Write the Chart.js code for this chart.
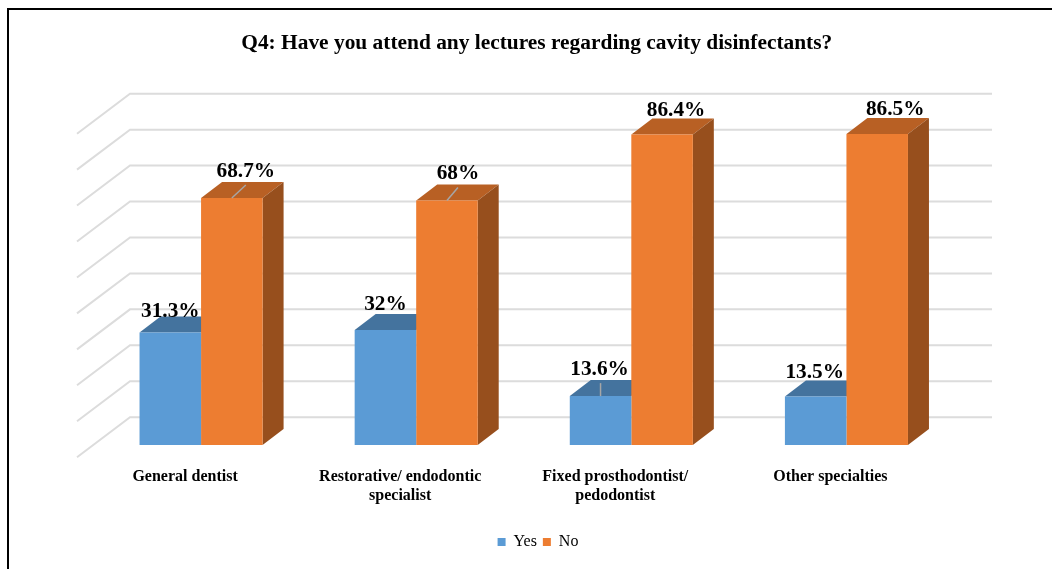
<!DOCTYPE html>
<html>
<head>
<meta charset="utf-8">
<style>
html,body{margin:0;padding:0;background:#fff;overflow:hidden}
#wrap{position:relative;width:1052px;height:569px}
canvas{display:block}
#frame{position:absolute;left:7px;top:8px;right:0;bottom:0;border-left:2px solid #000;border-top:2px solid #000;pointer-events:none}
</style>
<script src="https://cdn.jsdelivr.net/npm/chart.js@4"></script>
</head>
<body>
<div id="wrap"><canvas id="c" width="1052" height="569"></canvas><div id="frame"></div></div>
<script>
const categories = ['General dentist', ['Restorative/ endodontic','specialist'], ['Fixed prosthodontist/','pedodontist'], 'Other specialties'];
const yesValues = [31.3, 32, 13.6, 13.5];
const noValues = [68.7, 68, 86.4, 86.5];
const titleText = 'Q4: Have you attend any lectures regarding cavity disinfectants?';

// Layout of the value labels relative to each bar's top-centre
const yesLabelShift = [[0,-21],[0,-25],[-1,-27],[-1,-24]];
const noLabelShift = [[14,-27],[11,-27.5],[14,-24],[18,-25]];
const yesLeader = [null,null,[0,-13],null];
const noLeader = [[14,-13],[11,-13],null,null];

const SERIF = '"Liberation Serif","Times New Roman",serif';
const DX = 21, DY = 16;   // bar depth
const WALL_DY = 27.8;     // back wall relative to the bar plane

const threeD = {
  id:'threeD',
  afterLayout(chart){
    if(chart.legend){chart.legend.left += 14.25; chart.legend.right += 14.25;}
    if(chart.titleBlock){chart.titleBlock.left += 13; chart.titleBlock.right += 13;}
  },
  beforeDatasetsDraw(chart){
    const {ctx, scales:{y}} = chart;
    ctx.save();
    ctx.strokeStyle = '#DCDCDC';
    ctx.lineWidth = 2;
    const backL = 130, backR = 992;
    y.ticks.forEach(t=>{
      const py = y.getPixelForValue(t.value) - WALL_DY;
      ctx.beginPath();
      ctx.moveTo(backL - 53, py + 40);
      ctx.lineTo(backL, py);
      ctx.lineTo(backR, py);
      ctx.stroke();
    });
    const faces = [[0,'#44739E',null],[1,'#B86024','#974F1D']];
    faces.forEach(([di,top,side])=>{
      chart.getDatasetMeta(di).data.forEach(b=>{
        const l = b.x - b.width/2, r = b.x + b.width/2, t = b.y, bt = b.base;
        ctx.fillStyle = top;
        ctx.beginPath();
        ctx.moveTo(l,t);ctx.lineTo(l+DX,t-DY);ctx.lineTo(r+DX,t-DY);ctx.lineTo(r,t);ctx.closePath();ctx.fill();
        if(side){
          ctx.fillStyle = side;
          ctx.beginPath();
          ctx.moveTo(r,t);ctx.lineTo(r+DX,t-DY);ctx.lineTo(r+DX,bt-DY);ctx.lineTo(r,bt);ctx.closePath();ctx.fill();
        }
      });
    });
    ctx.restore();
  },
  afterDatasetsDraw(chart){
    const {ctx} = chart;
    ctx.save();
    const sets = [[0,yesValues,yesLabelShift,yesLeader],[1,noValues,noLabelShift,noLeader]];
    sets.forEach(([di,vals,shift,leader])=>{
      chart.getDatasetMeta(di).data.forEach((b,i)=>{
        if(leader[i]){
          ctx.strokeStyle='#A6A6A6';ctx.lineWidth=1.5;
          ctx.beginPath();ctx.moveTo(b.x,b.y);ctx.lineTo(b.x+leader[i][0],b.y+leader[i][1]);ctx.stroke();
        }
        ctx.fillStyle='#000';
        ctx.font='bold 21.3px '+SERIF;
        ctx.textAlign='center';ctx.textBaseline='middle';
        ctx.fillText(vals[i]+'%',b.x+shift[i][0],b.y+shift[i][1]);
      });
    });
    ctx.restore();
  }
};

new Chart(document.getElementById('c'),{
  type:'bar',
  data:{labels:categories,datasets:[
    {label:'Yes',data:yesValues,backgroundColor:'#5B9BD5',borderWidth:0,categoryPercentage:0.572,barPercentage:1},
    {label:'No',data:noValues,backgroundColor:'#ED7D31',borderWidth:0,categoryPercentage:0.572,barPercentage:1}
  ]},
  plugins:[threeD],
  options:{
    responsive:false,animation:false,
    layout:{padding:{left:93.5,right:98,top:0,bottom:9}},
    plugins:{
      title:{display:true,text:titleText,color:'#000',font:{family:SERIF,size:21.4,weight:'bold',lineHeight:1.2},padding:{top:31,bottom:64.8}},
      legend:{position:'bottom',labels:{boxWidth:8,boxHeight:8,color:'#000',font:{family:SERIF,size:16},padding:6}},
      tooltip:{enabled:false}
    },
    scales:{
      x:{
        grid:{display:false,drawTicks:false},border:{display:false},
        afterFit(s){s.height=83;},
        ticks:{color:'#000',autoSkip:false,maxRotation:0,minRotation:0,padding:22.5,labelOffset:-16,font:{family:SERIF,size:16,weight:'bold',lineHeight:1.2}}
      },
      y:{
        min:0,max:90,
        afterFit(s){s.width=0;},
        grid:{display:false},border:{display:false},
        ticks:{display:false,stepSize:10}
      }
    }
  }
});
</script>
</body>
</html>
